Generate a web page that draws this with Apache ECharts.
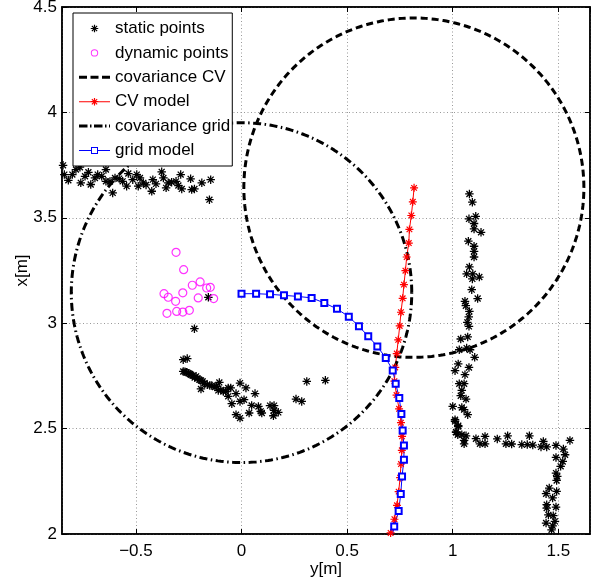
<!DOCTYPE html>
<html><head><meta charset="utf-8">
<script src="https://cdn.jsdelivr.net/npm/echarts@6/dist/echarts.min.js"></script>
<style>html,body{margin:0;padding:0;background:#fff}#c{width:595px;height:579px}</style>
</head><body><div id="c"></div>
<script>
// ---- axis settings ----
const xRange = [-0.85, 1.65];
const yRange = [2, 4.5];

// ---- static points (asterisks) ----
const staticTopWall = [
[-0.845,3.749],[-0.839,3.705],[-0.820,3.678],[-0.801,3.705],[-0.784,3.729],[-0.765,3.740],[-0.761,3.666],[-0.741,3.697],
[-0.725,3.716],[-0.714,3.658],[-0.694,3.689],[-0.681,3.705],[-0.662,3.697],[-0.642,3.729],[-0.642,3.673],[-0.623,3.672],
[-0.610,3.618],[-0.599,3.689],[-0.579,3.686],[-0.563,3.673],[-0.544,3.650],[-0.536,3.710],[-0.515,3.681],[-0.496,3.705],
[-0.489,3.650],[-0.481,3.689],[-0.465,3.666],[-0.452,3.656],[-0.425,3.626],[-0.420,3.681],[-0.405,3.661],[-0.378,3.718],
[-0.370,3.689],[-0.357,3.642],[-0.347,3.666],[-0.331,3.669],[-0.310,3.673],[-0.299,3.653],[-0.288,3.705],[-0.283,3.637],
[-0.241,3.685],[-0.236,3.634],[-0.223,3.637],[-0.188,3.666],[-0.152,3.586],[-0.146,3.681]
];
const staticCenter = [
[-0.223,2.974],[-0.157,3.123],
[-0.276,2.827],[-0.257,2.832],[-0.276,2.771],[-0.260,2.767],[-0.244,2.759],[-0.231,2.751],[-0.215,2.748],[-0.200,2.732],
[-0.184,2.724],[-0.192,2.688],[-0.162,2.708],[-0.141,2.704],[-0.125,2.697],[-0.105,2.719],[-0.110,2.681],[-0.086,2.676],
[-0.063,2.693],[-0.051,2.693],[-0.063,2.653],[-0.046,2.618],[-0.026,2.666],[-0.007,2.716],[-0.007,2.629],[0.012,2.637],
[0.021,2.693],[-0.026,2.566],[-0.007,2.550],[0.036,2.574],[0.064,2.666],[0.048,2.610],[0.080,2.605],[0.091,2.582],
[0.096,2.574],[0.135,2.609],[0.154,2.609],[0.154,2.587],[0.151,2.561],[0.174,2.577],[0.258,2.640],[0.285,2.629],
[0.309,2.724],[0.397,2.729],
[-0.268,2.770],[-0.252,2.763],[-0.238,2.755],[-0.222,2.742],[-0.208,2.738],[-0.192,2.728],[-0.175,2.716],[-0.150,2.705],
[-0.118,2.700],[-0.098,2.684],[-0.075,2.676]
];
const staticRightWall = [
[1.079,3.613],[1.093,3.574],[1.109,3.507],[1.077,3.495],[1.101,3.473],[1.101,3.447],[1.134,3.431],[1.074,3.389],
[1.101,3.365],[1.101,3.341],[1.101,3.314],[1.079,3.267],[1.066,3.234],[1.095,3.234],[1.093,3.210],[1.126,3.219],
[1.090,3.159],[1.118,3.117],[1.058,3.104],[1.062,3.083],[1.079,3.056],[1.076,3.030],[1.069,3.004],[1.077,2.985],
[1.038,2.925],[1.071,2.935],[1.031,2.874],[1.066,2.882],[1.082,2.874],[1.104,2.838],[1.026,2.807],[1.011,2.775],
[1.077,2.790],[1.058,2.756],[1.031,2.713],[1.054,2.713],[1.043,2.681],[1.038,2.656],[1.063,2.640],[1.000,2.605],
[1.043,2.600],[1.054,2.590],[1.071,2.566],[1.011,2.542],[1.026,2.510],[1.016,2.484],[1.024,2.471]
];
const staticCorner = [
[1.011,2.534],[1.026,2.514],[1.016,2.482],[1.043,2.471],[1.063,2.466],[1.054,2.444],[1.054,2.428],[1.110,2.452],
[1.129,2.428],[1.153,2.463],[1.153,2.428],[1.211,2.451],[1.252,2.428],[1.260,2.466],[1.279,2.427],[1.327,2.424],
[1.353,2.424],[1.363,2.466],[1.379,2.422],[1.418,2.413],[1.429,2.439],[1.445,2.413],[1.489,2.420],[1.555,2.444],
[1.524,2.403],[1.532,2.376],[1.489,2.363],[1.521,2.344],[1.511,2.321],[1.489,2.289],[1.495,2.273],[1.492,2.254],
[1.457,2.218],[1.492,2.202],[1.442,2.191],[1.473,2.171],[1.445,2.139],[1.445,2.123],[1.489,2.128],[1.453,2.091],
[1.476,2.087],[1.484,2.060],[1.442,2.052],[1.473,2.039],[1.468,2.020]
];

// ---- dynamic points (circles) ----
const dynamicPoints = [
[-0.310,3.336],[-0.274,3.254],[-0.367,3.140],[-0.347,3.123],[-0.312,3.104],[-0.278,3.144],[-0.233,3.180],[-0.196,3.196],
[-0.165,3.167],[-0.148,3.170],[-0.205,3.120],[-0.132,3.117],[-0.353,3.047],[-0.307,3.056],[-0.278,3.053],[-0.247,3.061]
];

// ---- CV model track ----
const cvModel = [
[0.706,2.005],[0.724,2.070],[0.736,2.136],[0.744,2.201],[0.751,2.267],[0.755,2.332],[0.759,2.397],[0.760,2.463],
[0.755,2.528],[0.746,2.594],[0.734,2.659],[0.724,2.725],[0.728,2.790],[0.735,2.856],[0.742,2.921],[0.749,2.987],
[0.755,3.052],[0.763,3.118],[0.769,3.183],[0.776,3.249],[0.782,3.314],[0.792,3.380],[0.795,3.445],[0.804,3.511],
[0.811,3.576],[0.817,3.642]
];

// ---- grid model track ----
const gridModel = [
[0.708,1.965],[0.723,2.036],[0.744,2.109],[0.754,2.190],[0.760,2.273],[0.769,2.352],[0.769,2.420],[0.763,2.491],
[0.757,2.569],[0.747,2.645],[0.730,2.713],[0.716,2.776],[0.683,2.835],[0.643,2.890],[0.600,2.938],[0.556,2.985],
[0.508,3.031],[0.452,3.068],[0.392,3.096],[0.332,3.120],[0.267,3.127],[0.201,3.132],[0.135,3.137],[0.069,3.140],
[0.000,3.140]
];

// ---- covariance circles: [centerX, centerY, radius] ----
const covCV = [0.816, 3.643, 0.805];
const covGrid = [0.0, 3.145, 0.806];

function circlePts(c) {
  const pts = [];
  const n = 360;
  for (let i = 0; i <= n; i++) {
    const t = 2 * Math.PI * i / n;
    pts.push([c[0] + c[2] * Math.cos(t), c[1] + c[2] * Math.sin(t)]);
  }
  return pts;
}

// ---- glyph helpers (styles only) ----
function seg(x1, y1, x2, y2, w) {
  const dx = x2 - x1, dy = y2 - y1, L = Math.hypot(dx, dy);
  const nx = -dy / L * w / 2, ny = dx / L * w / 2;
  const f = v => +v.toFixed(3);
  return 'M' + f(x1 + nx) + ' ' + f(y1 + ny) + 'L' + f(x2 + nx) + ' ' + f(y2 + ny) +
         'L' + f(x2 - nx) + ' ' + f(y2 - ny) + 'L' + f(x1 - nx) + ' ' + f(y1 - ny) + 'Z';
}
function asteriskParts(cx, cy, s, w) {
  const h = s / 2, d = s * 0.35;
  return seg(cx, cy - h, cx, cy + h, w) + seg(cx - h, cy, cx + h, cy, w) +
         seg(cx - d, cy - d, cx + d, cy + d, w) + seg(cx + d, cy - d, cx - d, cy + d, w);
}
const asterisk = 'path://' + asteriskParts(50, 50, 100, 15);
const anchors = 'M0 0L0.01 0L0 0.01Z M31 14L30.99 14L31 13.99Z';
const iconStatic = 'path://' + anchors + asteriskParts(15.5, 7, 7.5, 1.2);
const iconDynamic = 'path://' + anchors + 'M19.2 7A3.7 3.7 0 1 1 11.8 7A3.7 3.7 0 1 1 19.2 7Z M18.2 7A2.7 2.7 0 1 0 12.8 7A2.7 2.7 0 1 0 18.2 7Z';
const iconCovCV = 'path://' + anchors + seg(0, 7, 8, 7, 3) + seg(11.5, 7, 19.5, 7, 3) + seg(23, 7, 31, 7, 3);
const iconCovGrid = 'path://' + anchors + seg(0, 7, 8.5, 7, 3) + seg(11, 7, 12.5, 7, 3) + seg(15, 7, 23.5, 7, 3) + seg(26, 7, 27.5, 7, 3) + seg(30, 7, 31, 7, 3);
const iconCVModel = 'path://' + anchors + seg(0, 7, 31, 7, 1) + asteriskParts(15.5, 7, 7.5, 1.2);
const iconGridModel = 'path://' + anchors + seg(0, 7, 12.5, 7, 1) + seg(18.5, 7, 31, 7, 1) +
  seg(12, 4, 19, 4, 1) + seg(12, 10, 19, 10, 1) + seg(12.5, 3.5, 12.5, 10.5, 1) + seg(18.5, 3.5, 18.5, 10.5, 1);

const FONT = '"Liberation Sans", Arial, Helvetica, sans-serif';
const minus = v => String(v).replace('-', '\u2212');

const chart = echarts.init(document.getElementById('c'), null, {renderer: 'canvas'});
const axisLineStyle = {color: '#000', width: 1.5};
const gridLine = {show: true, lineStyle: {color: '#999', type: [1, 2.5], width: 1}};
chart.setOption({
  backgroundColor: '#fff',
  animation: false,
  textStyle: {fontFamily: FONT},
  grid: {left: 62, top: 7, width: 528, height: 527, show: true, borderColor: '#000', borderWidth: 1.5,
         backgroundColor: 'transparent', containLabel: false, outerBoundsMode: 'none'},
  legend: {
    orient: 'vertical', left: 73, top: 13,
    padding: [7, 2, 7, 6], itemGap: 7.4, itemWidth: 31, itemHeight: 14,
    backgroundColor: '#fff', borderColor: '#000', borderWidth: 1,
    textStyle: {fontSize: 17, color: '#000', fontFamily: FONT},
    data: [
      {name: 'static points', icon: iconStatic, itemStyle: {color: '#000', borderWidth: 0}},
      {name: 'dynamic points', icon: iconDynamic, itemStyle: {color: '#ff00ff', borderWidth: 0}},
      {name: 'covariance CV', icon: iconCovCV, itemStyle: {color: '#000', borderWidth: 0}},
      {name: 'CV model', icon: iconCVModel, itemStyle: {color: '#ff0000', borderWidth: 0}},
      {name: 'covariance grid', icon: iconCovGrid, itemStyle: {color: '#000', borderWidth: 0}},
      {name: 'grid model', icon: iconGridModel, itemStyle: {color: '#0000ff', borderWidth: 0}}
    ]
  },
  xAxis: [{
    type: 'value', min: xRange[0], max: xRange[1], splitNumber: 5,
    name: 'y[m]', nameLocation: 'middle', nameGap: 27, nameMoveOverlap: false,
    nameTextStyle: {fontSize: 17, color: '#000', fontFamily: FONT, verticalAlign: 'top'},
    axisLine: {show: true, lineStyle: axisLineStyle, onZero: false},
    axisTick: {show: true, inside: true, length: 5, lineStyle: {color: '#000'}},
    axisLabel: {fontSize: 17, color: '#000', margin: 9, showMinLabel: false, showMaxLabel: false, formatter: minus, fontFamily: FONT},
    splitLine: gridLine
  }, {
    type: 'value', position: 'top', min: xRange[0], max: xRange[1], splitNumber: 5,
    axisLine: {show: true, lineStyle: axisLineStyle, onZero: false},
    axisTick: {show: true, inside: true, length: 5, lineStyle: {color: '#000'}},
    axisLabel: {show: false}, splitLine: {show: false}
  }],
  yAxis: [{
    type: 'value', min: yRange[0], max: yRange[1], interval: 0.5,
    name: 'x[m]', nameLocation: 'middle', nameGap: 31, nameRotate: 90, nameMoveOverlap: false,
    nameTextStyle: {fontSize: 17, color: '#000', fontFamily: FONT},
    axisLine: {show: true, lineStyle: axisLineStyle, onZero: false},
    axisTick: {show: true, inside: true, length: 5, lineStyle: {color: '#000'}},
    axisLabel: {fontSize: 17, color: '#000', margin: 5, formatter: minus, fontFamily: FONT},
    splitLine: gridLine
  }, {
    type: 'value', position: 'right', min: yRange[0], max: yRange[1], interval: 0.5,
    axisLine: {show: true, lineStyle: axisLineStyle, onZero: false},
    axisTick: {show: true, inside: true, length: 5, lineStyle: {color: '#000'}},
    axisLabel: {show: false}, splitLine: {show: false}
  }],
  series: [
    {
      name: 'static points', type: 'scatter', symbol: asterisk, symbolSize: 8.5,
      itemStyle: {color: '#000', opacity: 1},
      data: staticTopWall.concat(staticCenter, staticRightWall, staticCorner)
    },
    {
      name: 'dynamic points', type: 'scatter', symbol: 'circle', symbolSize: 8,
      itemStyle: {color: 'transparent', borderColor: '#ff00ff', borderWidth: 1.2},
      data: dynamicPoints
    },
    {
      name: 'covariance CV', type: 'line', symbol: 'none', smooth: false,
      lineStyle: {color: '#000', width: 3, type: [7, 4]},
      itemStyle: {color: '#000'},
      data: circlePts(covCV)
    },
    {
      name: 'CV model', type: 'line', symbol: asterisk, symbolSize: 8, showSymbol: true, showAllSymbol: true,
      lineStyle: {color: '#ff0000', width: 1}, itemStyle: {color: '#ff0000'},
      data: cvModel
    },
    {
      name: 'covariance grid', type: 'line', symbol: 'none', smooth: false,
      lineStyle: {color: '#000', width: 3, type: [8, 3.5, 1.5, 3.5]},
      itemStyle: {color: '#000'},
      data: circlePts(covGrid)
    },
    {
      name: 'grid model', type: 'line', symbol: 'emptyRect', symbolSize: 6, showSymbol: true, showAllSymbol: true,
      lineStyle: {color: '#0000ff', width: 1}, itemStyle: {color: '#0000ff', borderColor: '#0000ff', borderWidth: 1},
      data: gridModel
    }
  ]
});
</script>
</body></html>
